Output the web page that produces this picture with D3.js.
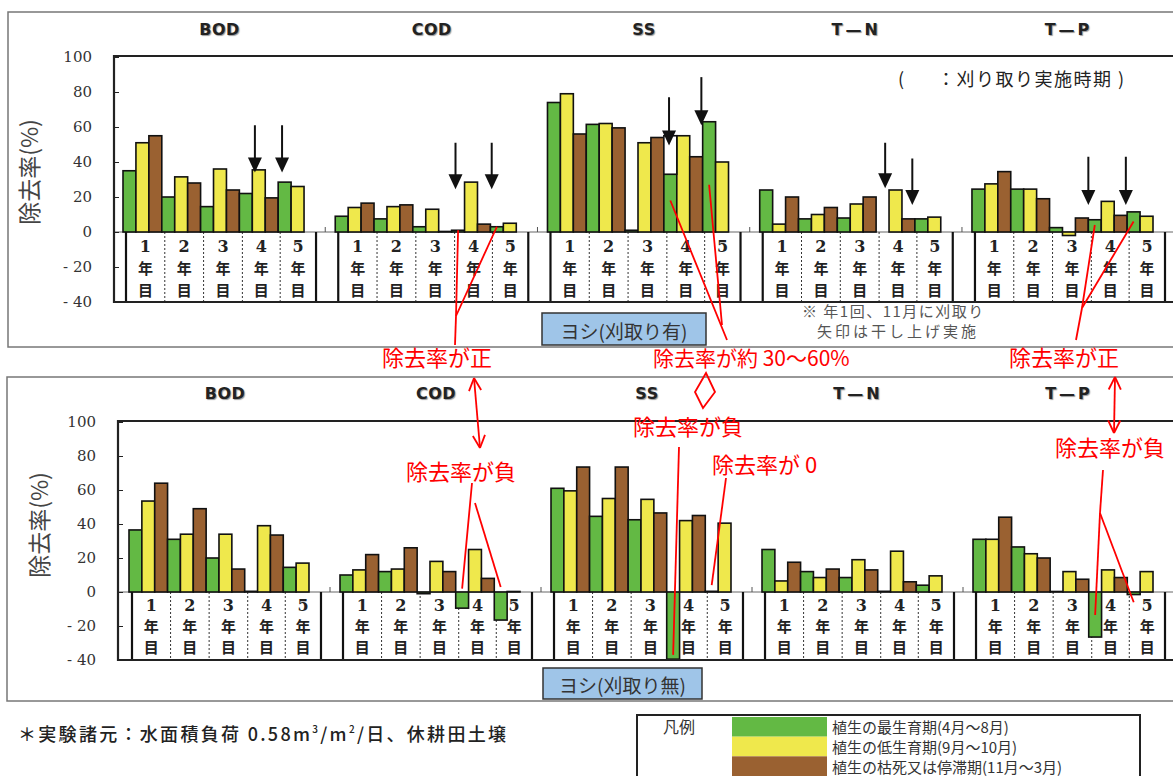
<!DOCTYPE html>
<html lang="ja">
<head>
<meta charset="UTF-8">
<title>除去率（刈取り有／無）</title>
<style>
  body { margin: 0; background: #fff; }
  svg { display: block; font-family: "Noto Sans CJK JP", sans-serif; }
</style>
</head>
<body>
<svg id="chart" width="1173" height="776"></svg>
<script src="https://d3js.org/d3.v7.min.js"></script>
<script>
const params = ["BOD", "COD", "SS", "T—N", "T—P"];
const years = ["1", "2", "3", "4", "5"];
const seasonOfBar = [0, 1, 2, 0, 1, 2, 0, 1, 2, 0, 1, 2, 0, 1];
const seasonNames = ["植生の最生育期(4月～8月)", "植生の低生育期(9月～10月)", "植生の枯死又は停滞期(11月～3月)"];
const seasonColors = ["#63b944", "#efe84c", "#9a6131"];
const yTicks = [100, 80, 60, 40, 20, 0, -20, -40];

// ヨシ(刈取り有)
const cutBOD = [35, 51, 55, 20, 31.5, 28, 14.5, 36, 24, 22, 35.5, 19.5, 28.5, 26];
const cutCOD = [9, 14, 16.5, 7.5, 14.5, 15.5, 3, 13, 0.3, 1, 28.5, 4.5, 3, 5];
const cutSS = [74, 79, 56, 61.5, 62, 59.5, 1, 51, 54, 33, 55, 43, 63, 40];
const cutTN = [24, 4.5, 20, 7.5, 10, 14, 8, 16, 20, 0, 24, 7.5, 7.5, 8.5];
const cutTP = [24.5, 27.5, 34.5, 24.5, 24.5, 19, 2.5, -2, 8, 7, 17.5, 9.5, 11.5, 9];
// ヨシ(刈取り無)
const uncutBOD = [36.5, 53.5, 64, 31, 34, 49, 20, 34, 13.5, 0.4, 39, 33.5, 14.5, 17];
const uncutCOD = [10, 13, 22, 12, 13.5, 26, -1, 18, 12, -9.5, 25, 8, -16.5, 0.3];
const uncutSS = [61, 59.5, 73.5, 44.5, 55, 73.5, 42.5, 54.5, 46.5, -39.5, 42, 45, 0.4, 40.5];
const uncutTN = [25, 6.5, 17.5, 12, 8.5, 13.5, 8.5, 19, 13, 0.4, 24, 6, 4, 9.5];
const uncutTP = [31, 31, 44, 26.5, 22.5, 20, 0.3, 12, 7.5, -26.5, 13, 8.5, -1.5, 12];

// 干し上げ（矢印）: bar position, start value, tip value
const arrowBar = [[10.2, 12.3], [9.3, 12.1], [9.4, 11.9], [9.7, 11.8], [9.0, 11.9]];
const arrowFrom = [[61, 61], [51, 51], [77, 88.5], [51, 42], [43, 43]];
const arrowTo = [[34, 34], [24.5, 24.5], [49.5, 61], [25, 15.5], [15.5, 15.5]];
// SS year 4 green bar of the cut panel was blanked above this value
const ssBlankTop = 55;

const svg = d3.select("#chart");

const panels = [
  { data: [cutBOD, cutCOD, cutSS, cutTN, cutTP], boxX: 8, top: 12, bottom: 347,
    frameX: 114, frameTop: 56, yTop: 57, yBot: 302, x0: 123, x1: 1153, hdrY: 35,
    ylab: [28, 172], yearRows: [252, 274, 296],
    label: "ヨシ(刈取り有)", labelBox: [542, 313, 164, 32] },
  { data: [uncutBOD, uncutCOD, uncutSS, uncutTN, uncutTP], boxX: 7, top: 377, bottom: 701,
    frameX: 118, frameTop: 421, yTop: 422, yBot: 660, x0: 129, x1: 1153, hdrY: 399,
    ylab: [38, 525], yearRows: [611, 632, 653],
    label: "ヨシ(刈取り無)", labelBox: [543, 668, 159, 31] }
];

panels.forEach((p, pi) => {
  const g = svg.append("g");
  const y = d3.scaleLinear().domain([-40, 100]).range([p.yBot, p.yTop]);
  const xg = d3.scaleBand().domain(params).range([p.x0, p.x1]).paddingInner(0.147).paddingOuter(0);
  const xb = d3.scaleBand().domain(d3.range(14)).range([0, xg.bandwidth()]);
  p.y = y; p.xg = xg; p.xb = xb;

  g.append("rect")
    .attr("x", p.boxX).attr("y", p.top)
    .attr("width", 1200).attr("height", p.bottom - p.top)
    .attr("fill", "none").attr("stroke", "#777").attr("stroke-width", 1.5);

  // headers
  g.selectAll(".hdr").data(params).join("text")
    .attr("x", d => xg(d) + xg.bandwidth() / 2 + 6)
    .attr("y", p.hdrY)
    .attr("text-anchor", "middle")
    .attr("font-family", "DejaVu Sans")
    .attr("font-weight", "bold")
    .attr("font-size", 16)
    .attr("letter-spacing", d => d.length === 3 && d[1] === "—" ? 3 : 0.5)
    .attr("fill", "#222")
    .style("text-shadow", "1px 1px 1px #999")
    .text(d => d);

  // zero line
  g.append("line")
    .attr("x1", p.frameX).attr("x2", 1180)
    .attr("y1", y(0)).attr("y2", y(0))
    .attr("stroke", "#666").attr("stroke-width", 1);

  // category boxes
  params.forEach((name, gi) => {
    const gx = xg(name), step = xb.step();
    const bounds = [gx + 3, gx + 3 * step + 3, gx + 6 * step + 3, gx + 9 * step + 3, gx + 12 * step + 2, gx + xg.bandwidth() + 12];
    [bounds[0], bounds[5]].forEach(bx => {
      g.append("line").attr("x1", bx).attr("x2", bx)
        .attr("y1", y(0)).attr("y2", p.yBot)
        .attr("stroke", "#111").attr("stroke-width", 2.2);
    });
    bounds.slice(1, 5).forEach(bx => {
      g.append("line").attr("x1", bx).attr("x2", bx)
        .attr("y1", y(0)).attr("y2", p.yBot)
        .attr("stroke", "#333").attr("stroke-width", 1)
        .attr("stroke-dasharray", "2,2");
    });
    years.forEach((yr, k) => {
      const cx = (bounds[k] + bounds[k + 1]) / 2;
      [yr, "年", "目"].forEach((t, r) => {
        g.append("text")
          .attr("x", cx).attr("y", p.yearRows[r])
          .attr("text-anchor", "middle")
          .attr("font-size", r === 0 ? 16 : 15)
          .attr("font-weight", "bold")
          .attr("font-family", r === 0 ? "DejaVu Serif" : "Noto Sans CJK JP")
          .attr("fill", "#222")
          .text(t);
      });
    });
    if (gi > 0) {
      g.append("line").attr("x1", gx - 10).attr("x2", gx - 10)
        .attr("y1", y(0) - 5).attr("y2", y(0))
        .attr("stroke", "#555").attr("stroke-width", 1);
    }

    // bars
    g.append("g").selectAll("rect").data(p.data[gi]).join("rect")
      .attr("x", (d, i) => gx + xb(i))
      .attr("y", d => y(Math.max(0, d)))
      .attr("width", xb.bandwidth())
      .attr("height", d => Math.abs(y(d) - y(0)))
      .attr("fill", (d, i) => seasonColors[seasonOfBar[i]])
      .attr("stroke", "#111")
      .attr("stroke-width", 1.6);
  });

  // blanked part of SS bar (cut panel)
  if (pi === 0) {
    const gx = xg("SS");
    g.append("rect")
      .attr("x", gx + xb(9)).attr("y", y(ssBlankTop))
      .attr("width", xb.bandwidth())
      .attr("height", y(cutSS[9]) - y(ssBlankTop))
      .attr("fill", "#fff").attr("stroke", "#111").attr("stroke-width", 1.6);
  }

  // frame
  g.append("path")
    .attr("d", `M1180,${p.frameTop}H${p.frameX}V${p.yBot}H1180`)
    .attr("fill", "none").attr("stroke", "#222").attr("stroke-width", 2.2);

  // y axis
  const ax = g.append("g")
    .attr("transform", `translate(${p.frameX},0)`)
    .call(d3.axisLeft(y).tickValues(yTicks).tickSizeInner(-5).tickSizeOuter(0).tickPadding(22)
      .tickFormat(d => d < 0 ? "- " + (-d) : d));
  ax.select(".domain").remove();
  ax.selectAll("line").attr("stroke", "#222");
  ax.selectAll("text")
    .attr("font-family", "DejaVu Serif").attr("font-size", 15).attr("fill", "#333");

  g.append("text")
    .attr("transform", `translate(${p.ylab[0]},${p.ylab[1]}) rotate(-90)`)
    .attr("text-anchor", "middle").attr("dominant-baseline", "central")
    .attr("font-size", 23).attr("fill", "#444")
    .text("除去率(%)");

  // panel label
  const [lx, ly, lw, lh] = p.labelBox;
  g.append("rect").attr("x", lx).attr("y", ly).attr("width", lw).attr("height", lh)
    .attr("fill", "#9fc5e8").attr("stroke", "#333").attr("stroke-width", 1.5);
  g.append("text").attr("x", lx + lw / 2).attr("y", ly + lh / 2 + 1)
    .attr("text-anchor", "middle").attr("dominant-baseline", "central")
    .attr("font-size", 19).attr("fill", "#333").text(p.label);
});

// harvest arrows (cut panel)
const P0 = panels[0];
arrowBar.forEach((pair, gi) => pair.forEach((b, k) => {
  const x = P0.xg(params[gi]) + b * P0.xb.step();
  const y1 = P0.y(arrowFrom[gi][k]), y2 = P0.y(arrowTo[gi][k]);
  svg.append("line").attr("x1", x).attr("x2", x).attr("y1", y1).attr("y2", y2 - 12)
    .attr("stroke", "#111").attr("stroke-width", 2);
  svg.append("path").attr("d", `M${x - 7},${y2 - 15}L${x + 7},${y2 - 15}L${x},${y2}Z`).attr("fill", "#111");
}));

const note = svg.append("g").attr("font-size", 18).attr("fill", "#222");
note.append("text").attr("x", 898).attr("y", 86).text("(");
note.append("text").attr("x", 937).attr("y", 86).attr("letter-spacing", 1.5).text("：刈り取り実施時期");
note.append("text").attr("x", 1118).attr("y", 86).text(")");

svg.append("text").attr("x", 802).attr("y", 317)
  .attr("font-size", 15).attr("fill", "#555").attr("letter-spacing", 1.5)
  .text("※ 年1回、11月に刈取り");
svg.append("text").attr("x", 817).attr("y", 337)
  .attr("font-size", 15).attr("fill", "#555").attr("letter-spacing", 3)
  .text("矢印は干し上げ実施");

// footer
const foot = svg.append("text").attr("x", 18).attr("y", 741)
  .attr("font-size", 18).attr("font-weight", 500).attr("fill", "#222").attr("letter-spacing", 2.3);
foot.append("tspan").text("＊実験諸元：水面積負荷 0.58m");
foot.append("tspan").attr("font-size", 10).attr("dy", -8).text("3");
foot.append("tspan").attr("dy", 8).text("/m");
foot.append("tspan").attr("font-size", 10).attr("dy", -8).text("2");
foot.append("tspan").attr("dy", 8).text("/日、休耕田土壌");

// legend
const lg = svg.append("g");
lg.append("rect").attr("x", 637).attr("y", 715).attr("width", 503).attr("height", 80)
  .attr("fill", "#fff").attr("stroke", "#222").attr("stroke-width", 2);
lg.append("text").attr("x", 663).attr("y", 733).attr("font-size", 16).attr("fill", "#333").text("凡例");
const legY = d3.scaleBand().domain(d3.range(3)).range([717, 776]);
seasonNames.forEach((name, i) => {
  lg.append("rect").attr("x", 732).attr("y", legY(i)).attr("width", 95).attr("height", legY.bandwidth())
    .attr("fill", seasonColors[i]);
  lg.append("text").attr("x", 832).attr("y", legY(i) + legY.bandwidth() / 2)
    .attr("dominant-baseline", "central")
    .attr("font-size", 15).attr("fill", "#333").text(name);
});

// red annotations
const red = svg.append("g").attr("stroke", "#f00").attr("stroke-width", 1.8).attr("fill", "none");
const redText = svg.append("g").attr("fill", "#f00").attr("font-size", 22);
function pt(pi, gi, bar, v) {
  const p = panels[pi];
  return [p.xg(params[gi]) + (bar + 0.5) * p.xb.step(), p.y(v)];
}
function seg(a, b) { red.append("line").attr("x1", a[0]).attr("y1", a[1]).attr("x2", b[0]).attr("y2", b[1]); }
function dblArrow(a, b) {
  seg(a, b);
  const ang = Math.atan2(b[1] - a[1], b[0] - a[0]);
  [[a, ang], [b, ang + Math.PI]].forEach(([q, t]) => {
    [0.45, -0.45].forEach(da => {
      seg(q, [q[0] + 14 * Math.cos(t + da), q[1] + 14 * Math.sin(t + da)]);
    });
  });
}
function label(txt, x, y, anchor) {
  redText.append("text").attr("x", x).attr("y", y).attr("text-anchor", anchor || "middle").text(txt);
}

// top: 除去率が正 (COD)
label("除去率が正", 437, 366);
seg([455, 345], [456, 316]);
seg([456, 316], pt(0, 1, 9, 1));
seg([456, 316], pt(0, 1, 12, 3));
// top: 除去率が約30～60% (SS)
redText.append("text").attr("x", 653).attr("y", 366).attr("font-size", 21).text("除去率が約 30～60%");
seg([727, 340], pt(0, 2, 9, 18));
seg([722, 325], pt(0, 2, 12, 27));
// top: 除去率が正 (T-P)
label("除去率が正", 1064, 366);
seg([1076, 340], [1082, 308]);
seg([1082, 308], pt(0, 4, 9, 4));
seg([1082, 308], pt(0, 4, 12, 6));

// bottom: COD 除去率が負
dblArrow([474, 378], [480, 448]);
label("除去率が負", 461, 480);
seg([472, 483], pt(1, 1, 9, 2));
seg([475, 503], pt(1, 1, 12, 3));
// bottom: SS 除去率が負
red.append("path").attr("d", "M706,373L715,392L703,408L695,392Z");
label("除去率が負", 688, 435);
seg([679, 447], pt(1, 2, 9, -37));
// bottom: SS 除去率が0
label("除去率が 0", 712, 473, "start");
seg([726, 478], pt(1, 2, 12, 4));
// bottom: T-P 除去率が負
dblArrow([1115, 377], [1114, 433]);
label("除去率が負", 1110, 456);
seg([1103, 470], [1100, 513]);
seg([1100, 513], pt(1, 4, 9, -13.5));
seg([1100, 513], pt(1, 4, 12, -6));
</script>
</body>
</html>
